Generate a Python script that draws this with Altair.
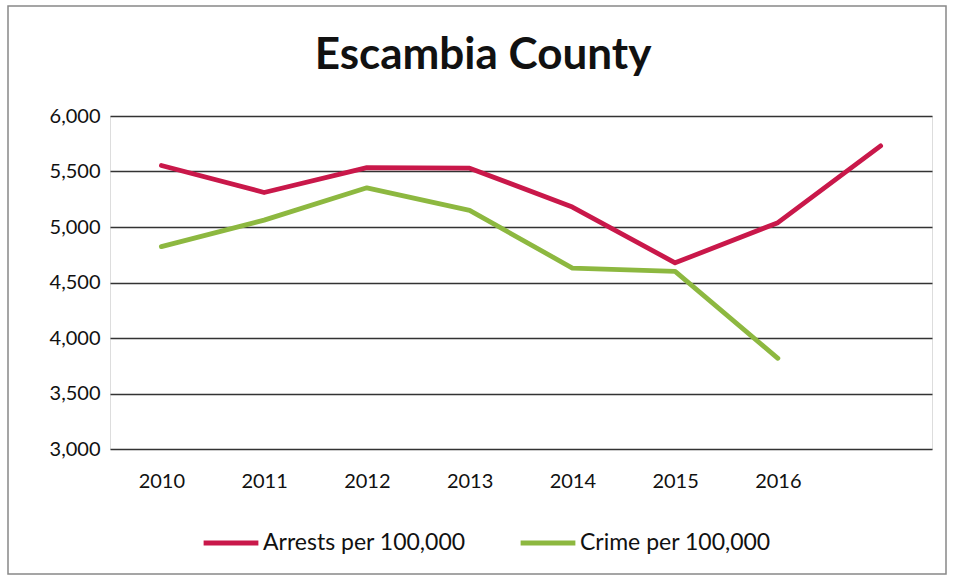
import altair as alt
import pandas as pd

years = ["2010", "2011", "2012", "2013", "2014", "2015", "2016", "2017"]
arrests = [5554, 5311, 5535, 5530, 5180, 4677, 5039, 5731]
crime = [4823, 5062, 5353, 5150, 4630, 4600, 3817]
series_names = ["Arrests per 100,000", "Crime per 100,000"]
colors = ["#C9184A", "#8DB840"]

rows = []
for y, v in zip(years, arrests):
    rows.append({"year": y, "value": v, "series": series_names[0]})
for y, v in zip(years, crime):
    rows.append({"year": y, "value": v, "series": series_names[1]})
df = pd.DataFrame(rows)

FONT = "Lato"

lines = alt.Chart(df).mark_line(strokeWidth=4.8, strokeCap="round", strokeJoin="round").encode(
    x=alt.X("year:O", sort=years, scale=alt.Scale(paddingOuter=0.5),
            axis=alt.Axis(title=None, labelAngle=0, labelFontSize=20, labelPadding=22,
                          labelColor="#111", labelFont=FONT, domain=False, ticks=False,
                          labelExpr="datum.value == '2017' ? '' : datum.label")),
    y=alt.Y("value:Q", scale=alt.Scale(domain=[3000, 6000], nice=False, zero=False),
            axis=alt.Axis(title=None, values=[3000, 3500, 4000, 4500, 5000, 5500, 6000],
                          format=",.0f", labelFontSize=20, labelPadding=10, labelColor="#111",
                          labelFont=FONT, domain=False, ticks=False, grid=True,
                          gridColor="#333", gridWidth=1.5)),
    color=alt.Color("series:N", sort=series_names,
                    scale=alt.Scale(domain=series_names, range=colors),
                    legend=alt.Legend(title=None, orient="none", direction="horizontal",
                                      legendX=91, legendY=397, symbolType="stroke",
                                      symbolSize=3000, symbolStrokeWidth=5,
                                      labelFontSize=23, labelFont=FONT, labelColor="#111",
                                      labelLimit=400, columnPadding=44, labelOffset=2)),
    order=alt.Order("year:O"),
)

frame = alt.Chart(pd.DataFrame({"a": [0]})).mark_rect(
    fill=None, stroke="#888", strokeWidth=1.5
).encode(x=alt.value(-102), x2=alt.value(836), y=alt.value(-110), y2=alt.value(458))

chart = alt.layer(frame, lines).properties(
    width=822, height=333,
    title=alt.TitleParams("Escambia County", fontSize=44, font=FONT, fontWeight="bold",
                          color="#111", anchor="middle", dx=-38, offset=-73),
    padding={"left": 110, "top": 116, "right": 22, "bottom": 130},
    autosize=alt.AutoSizeParams(type="none"),
).configure_view(stroke=None).configure(background="white")

chart.save("out.html", embed_options={"renderer": "svg", "actions": False})
